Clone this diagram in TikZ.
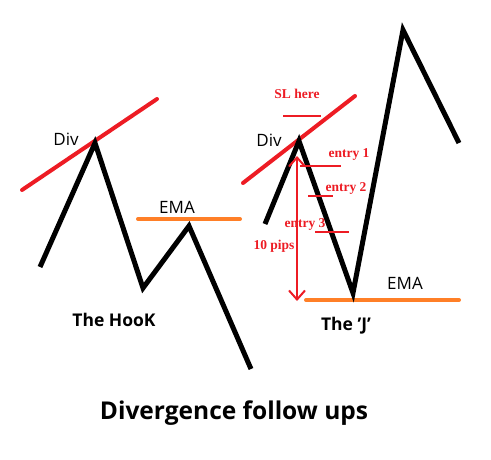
\documentclass[tikz,border=0pt]{standalone}
\usepackage{fontspec}
\setmainfont{Open Sans}
\newfontfamily\serifred{Liberation Serif}
\usetikzlibrary{arrows.meta}
\definecolor{pred}{RGB}{237,28,36}
\definecolor{porange}{RGB}{255,127,39}
\tikzset{
  price/.style={line width=5pt, line join=miter, black},
  divline/.style={line width=4pt, pred, line cap=round},
  emaline/.style={line width=4pt, porange, line cap=round},
  lvl/.style={line width=2pt, pred},
  lbl/.style={font=\fontsize{17}{17}\selectfont, inner sep=0pt},
  rtxt/.style={font=\serifred\bfseries\fontsize{13.5}{13.5}\selectfont, text=pred, inner sep=0pt},
  ttl/.style={font=\bfseries\fontsize{17.5}{17.5}\selectfont, inner sep=0pt},
}
\begin{document}
\begin{tikzpicture}[x=1pt,y=-1pt]
\useasboundingbox (0,0) rectangle (491,460);
% left: The Hook
\coordinate (a0) at (40,267);
\coordinate (a1) at (95,143);
\coordinate (a2) at (143,288);
\coordinate (a3) at (189,226);
\coordinate (a4) at (251,369);
\coordinate (d0) at (22,190);
\coordinate (d1) at (157,99);
\coordinate (e0) at (138,219);
\coordinate (e1) at (240,219);
\draw[divline] (d0) -- (d1);
\draw[emaline] (e0) -- (e1);
\draw[price] (a0) -- (a1) -- (a2) -- (a3) -- (a4);
\node[lbl] (divL) at (66,139) {Div};
\node[lbl] (emaL) at (177,207) {EMA};
\node[ttl] (hook) at (114,320) {The HooK};
% right: The J
\coordinate (b0) at (265,224);
\coordinate (b1) at (299,141);
\coordinate (b2) at (353,293);
\coordinate (b3) at (403,30);
\coordinate (b4) at (459,143);
\coordinate (f0) at (243,183);
\coordinate (f1) at (355,96);
\coordinate (g0) at (306,300);
\coordinate (g1) at (459,300);
\draw[divline] (f0) -- (f1);
\draw[emaline] (g0) -- (g1);
\draw[price] (b0) -- (b1) -- (b2) -- (b3) -- (b4);
\node[lbl] (divR) at (269,140) {Div};
\node[lbl] (emaR) at (405,283) {EMA};
\node[ttl] (jay) at (346,326) {The \char"27 J\char"27};
% levels
\coordinate (sl0) at (283,116); \coordinate (sl1) at (321,116);
\coordinate (en10) at (300,166); \coordinate (en11) at (341,166);
\coordinate (en20) at (308,196); \coordinate (en21) at (333,196);
\coordinate (en30) at (315,232); \coordinate (en31) at (349,232);
\draw[lvl] (sl0) -- (sl1);
\draw[lvl] (en10) -- (en11);
\draw[lvl] (en20) -- (en21);
\draw[lvl] (en30) -- (en31);
\coordinate (pt) at (297,156);
\coordinate (pb) at (297,301);
\draw[lvl, {Straight Barb[length=9pt,width=16pt]}-{Straight Barb[length=9pt,width=16pt]}] (pt) -- (pb);
\node[rtxt] (sl) at (297,94) {SL here};
\node[rtxt] (t1) at (349,155) {entry 1};
\node[rtxt] (t2) at (346,188) {entry 2};
\node[rtxt] (t3) at (305,224) {entry 3};
\node[rtxt] (pips) at (274,246) {10 pips};
% title
\node[font=\bfseries\fontsize{24.5}{24.5}\selectfont, inner sep=0pt] (title) at (234,413) {Divergence follow ups};
\end{tikzpicture}
\end{document}
